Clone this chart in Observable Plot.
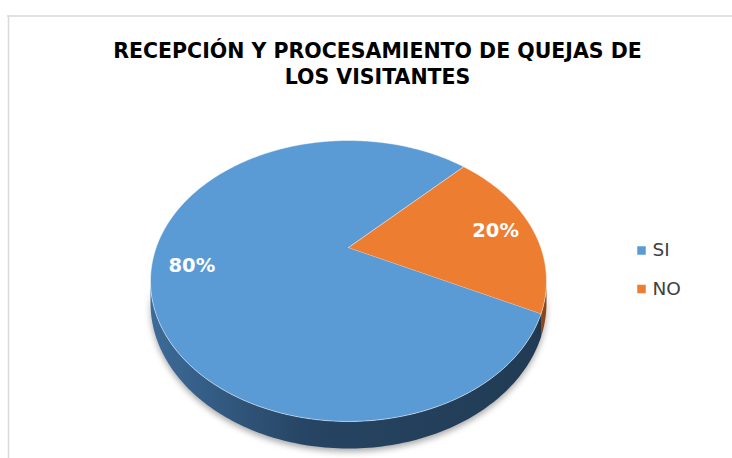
<!DOCTYPE html>
<html>
<head>
<meta charset="utf-8">
<script src="https://cdn.jsdelivr.net/npm/d3@7"></script>
<script src="https://cdn.jsdelivr.net/npm/@observablehq/plot@0.6"></script>
<style>
  html, body { margin: 0; padding: 0; background: #fff; }
</style>
</head>
<body>
<div id="chart"></div>
<script>
// ---- data ----
const categories = ["SI", "NO"];
const values = [80, 20];
const colors = ["#5B9BD5", "#ED7D31"];
const sideColors = ["url(#sideGrad)", "#8a4518"];
const titleLines = ["RECEPCIÓN Y PROCESAMIENTO DE QUEJAS DE", "LOS VISITANTES"];

// ---- geometry (perspective disc) ----
const W = 732, Hh = 458;
const cx = 348, cy = 247, A = 192.3, B = 132.5, k = 0.2384, depth = 20.6;
const firstAngle = 116.5 * Math.PI / 180;
const deg = Math.PI / 180;

function proj(alpha, r, down = 0) {
  const u = Math.sin(alpha) * r, v = Math.cos(alpha) * r;
  const s = 1 / (1 + k * v);
  return { x: cx + A * u * s, y: cy - B * v * s + down * s };
}

const pie = d3.pie().sort(null).startAngle(firstAngle).endAngle(firstAngle + 2 * Math.PI)(values);

function arcPts(a0, a1, r, down) {
  const n = Math.max(2, Math.ceil(Math.abs(a1 - a0) / deg));
  return d3.range(n + 1).map(i => proj(a0 + (a1 - a0) * i / n, r, down));
}

const tops = pie.map((p, i) => {
  const pts = [{ x: cx, y: cy }, ...arcPts(p.startAngle, p.endAngle, 1, 0)];
  return pts.map(d => ({ ...d, cat: categories[i] }));
});

// visible front band of rim
const visLo = Math.PI / 2 + Math.asin(k), visHi = 3 * Math.PI / 2 - Math.asin(k);
const sides = [];
pie.forEach((p, i) => {
  for (const shift of [-2 * Math.PI, 0, 2 * Math.PI]) {
    const a0 = Math.max(p.startAngle + shift, visLo), a1 = Math.min(p.endAngle + shift, visHi);
    if (a1 > a0) {
      const topArc = arcPts(a0, a1, 1, 0);
      const botArc = arcPts(a0, a1, 1, depth).reverse();
      sides.push({ i, pts: [...topArc, ...botArc] });
    }
  }
});

const labels = pie.map((p, i) => {
  const m = (p.startAngle + p.endAngle) / 2;
  return { ...proj(m, 0.8, 0), text: Math.round(values[i] / d3.sum(values) * 100) + "%" };
});

const legend = categories.map((c, i) => ({ cat: c, color: colors[i], x: 641, y: 250 + i * 38.5 }));
const titleData = titleLines.map((t, i) => ({ t, x: 377, y: 50.5 + i * 26.5 }));

const font = "'DejaVu Sans', sans-serif";

const marks = [
  Plot.ruleY([15.5], { x1: 7, x2: W, stroke: "#d9d9d9", strokeWidth: 1.5 }),
  Plot.ruleX([8], { y1: 15, y2: Hh, stroke: "#d9d9d9", strokeWidth: 1.5 }),
  ...sides.map(s => Plot.line(s.pts, { x: "x", y: "y", fill: sideColors[s.i], stroke: "none", className: "side" })),
  ...tops.map((t, i) => Plot.line(t, { x: "x", y: "y", fill: colors[i], stroke: "#ffffff", strokeOpacity: 0.6, strokeWidth: 0.8 })),
  Plot.text(labels, { x: "x", y: "y", text: "text", fill: "white", fontSize: 19.5, fontWeight: "bold", fontFamily: font }),
  Plot.text(titleData, { x: "x", y: "y", text: "t", fill: "#000", fontSize: 20.5, fontWeight: "bold", fontFamily: font }),
  Plot.dot(legend, { x: "x", y: "y", symbol: "square", r: 4.8, fill: "color", stroke: "none" }),
  Plot.text(legend, { x: d => d.x + 11, y: "y", text: "cat", textAnchor: "start", fill: "#404040", fontSize: 18.5, fontFamily: font })
];

const chart = Plot.plot({
  width: W, height: Hh, margin: 0,
  x: { type: "linear", domain: [0, W], range: [0, W], axis: null },
  y: { type: "linear", domain: [0, Hh], range: [0, Hh], axis: null },
  color: { type: "identity" },
  style: { background: "#fff", overflow: "visible" },
  marks
});

const svg = d3.select(chart.tagName.toLowerCase() === "svg" ? chart : chart.querySelector("svg"));
const defs = svg.insert("defs", ":first-child");
const g = defs.append("linearGradient").attr("id", "sideGrad").attr("gradientUnits", "userSpaceOnUse")
  .attr("x1", cx - A * 1.03).attr("x2", cx + A * 1.03).attr("y1", 0).attr("y2", 0);
g.append("stop").attr("offset", "0%").attr("stop-color", "#3c6b98");
g.append("stop").attr("offset", "40%").attr("stop-color", "#264463");
g.append("stop").attr("offset", "100%").attr("stop-color", "#213b53");
svg.selectAll(".side").style("filter", "drop-shadow(0px 3px 3px rgba(0,0,0,0.35))");

document.getElementById("chart").appendChild(chart);
</script>
</body>
</html>
